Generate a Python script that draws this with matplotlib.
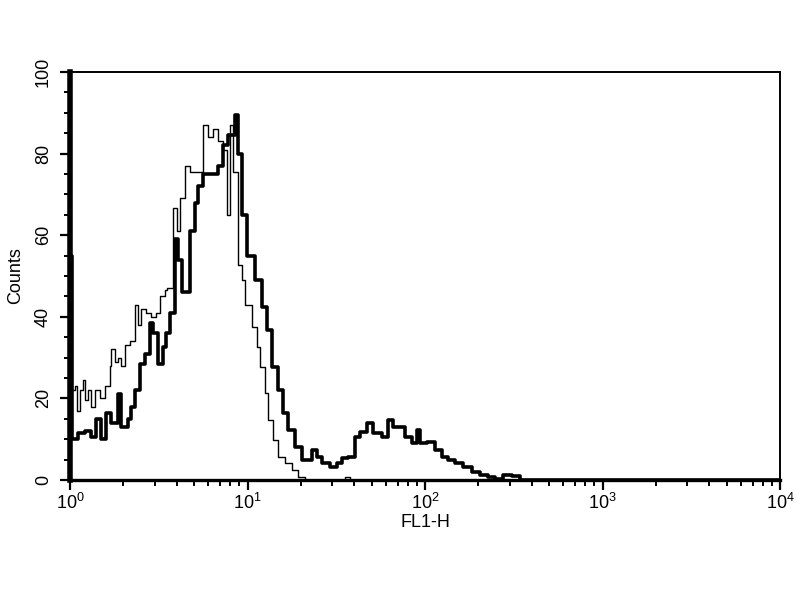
import numpy as np
import matplotlib
matplotlib.use('Agg')
import matplotlib.pyplot as plt
from matplotlib.ticker import LogLocator, FixedLocator, MultipleLocator

plt.rcParams['font.family'] = ['Liberation Sans', 'DejaVu Sans']
plt.rcParams['mathtext.default'] = 'regular'

# ---------------- Data ---------------- #
# thin trace (control)
thin_x = [1.000, 1.067, 1.095, 1.139, 1.184, 1.215, 1.263, 1.313, 1.383, 1.476,
          1.575, 1.680, 1.702, 1.793, 1.864, 1.938, 2.041, 2.178, 2.324, 2.416,
          2.512, 2.680, 2.860, 3.051, 3.214, 3.429, 3.519, 3.804, 4.007, 4.166,
          4.445, 4.744, 5.194, 5.615, 5.991, 6.392, 6.821, 7.278, 7.665, 7.970,
          8.284, 8.841, 9.312, 9.681, 10.60, 11.31, 11.76, 12.55, 13.05, 13.92,
          14.85, 16.27, 17.81, 19.25, 21.09, 35.43, 37.81, 10000.0]
thin_y = [22, 23, 17, 22, 24.5, 19.6, 22, 18, 22, 20,
          23, 28, 32, 29, 30, 28, 33, 34, 43, 38,
          42, 41, 40, 41, 45, 46.5, 47, 66.7, 61, 69,
          77, 75.5, 75.5, 87, 84, 86, 83, 81, 65, 87,
          75.5, 52.7, 49, 43, 37.5, 32.6, 27.7, 21.3, 14.7, 9.8,
          5.7, 4.1, 2.5, 0.8, 0, 0.8, 0, 0]

# thick trace (stained)
thick_x = [1.000, 1.026, 1.109, 1.215, 1.313, 1.401, 1.495, 1.595, 1.702, 1.864,
           1.938, 2.122, 2.207, 2.324, 2.480, 2.646, 2.823, 2.935, 3.131, 3.342,
           3.474, 3.660, 3.904, 4.059, 4.276, 4.744, 5.061, 5.262, 5.615, 6.149,
           6.821, 7.278, 7.764, 8.502, 8.841, 9.312, 9.935, 11.02, 12.07, 12.88,
           13.74, 14.85, 15.85, 16.91, 18.52, 20.28, 21.63, 23.09, 24.64, 26.28,
           29.16, 31.93, 34.07, 36.83, 40.33, 43.03, 47.12, 50.93, 57.25, 61.88,
           66.02, 72.29, 77.15, 84.52, 90.15, 93.73, 102.6, 113.9, 124.7, 134.8,
           147.6, 163.8, 184.0, 204.2, 226.4, 248.0, 275.0, 309.2, 342.9, 10000.0]
thick_y = [55, 10, 11.5, 12, 10.5, 15, 10, 16.5, 14, 21,
           13, 15, 18, 22, 28.5, 31, 38.5, 36, 28.5, 32.6,
           36, 41, 59, 54, 46, 61, 68, 72, 75, 75,
           77, 82, 84.5, 89.5, 80, 65, 55, 49, 42.4, 36.8,
           27.7, 22, 16.4, 12.3, 8, 4.9, 4.9, 7.4, 5.7, 4.1,
           3.3, 4.1, 5.4, 5.7, 10.6, 11.8, 13.9, 11.4, 10.6, 14.7,
           13, 13, 10.6, 9, 12.3, 9, 9.3, 7.4, 5.7, 4.9,
           4.1, 3.3, 2, 1.2, 0.8, 0.2, 1.2, 1, 0, 0]

x_ticks = [1, 10, 100, 1000, 10000]
y_ticks = [0, 20, 40, 60, 80, 100]

# ---------------- Figure ---------------- #
fig = plt.figure(figsize=(8, 6), dpi=100)
ax = fig.add_axes([0.0875, 0.2, 0.8875, 0.68])

ax.plot(thin_x, thin_y, color='black', lw=1.0, drawstyle='steps-post')
ax.plot(thick_x, thick_y, color='black', lw=2.6, drawstyle='steps-post')

ax.set_xscale('log')
ax.set_xlim(1, 10000)
ax.set_ylim(0, 100)

ax.xaxis.set_major_locator(FixedLocator(x_ticks))
ax.xaxis.set_minor_locator(LogLocator(base=10, subs=np.arange(2, 10)))
ax.yaxis.set_major_locator(FixedLocator(y_ticks))
ax.yaxis.set_minor_locator(MultipleLocator(5))

ax.tick_params(axis='both', which='major', direction='out', length=7, width=1.6,
               labelsize=13, colors='black')
ax.tick_params(axis='both', which='minor', direction='out', length=4, width=1.4)
ax.tick_params(axis='x', which='major', pad=2)
ax.tick_params(axis='y', which='major', pad=6)
for lbl in ax.get_yticklabels():
    lbl.set_rotation(90)
    lbl.set_va('center')

ax.spines['left'].set_linewidth(4)
ax.spines['bottom'].set_linewidth(2.4)
ax.spines['top'].set_linewidth(1.4)
ax.spines['right'].set_linewidth(1.4)

ax.set_ylabel('Counts', fontsize=13, labelpad=8)
ax.set_xlabel('FL1-H', fontsize=13, labelpad=1)

fig.savefig('out.png', dpi=100)
